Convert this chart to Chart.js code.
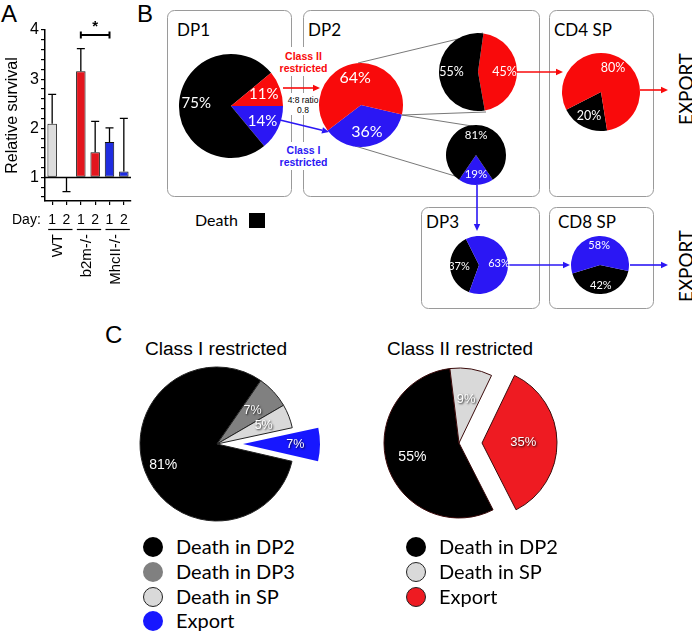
<!DOCTYPE html>
<html><head><meta charset="utf-8">
<script src="https://cdn.jsdelivr.net/npm/chart.js@4.4.1/dist/chart.umd.min.js"></script>
<style>
html,body{margin:0;padding:0;background:#fff;}
#wrap{position:relative;width:692px;height:633px;overflow:hidden;background:#fff;}
canvas{position:absolute;}
#ann{position:absolute;left:0;top:0;}
.leg{position:absolute;font-family:Lato,'Noto Sans',sans-serif;font-size:20px;color:#000;white-space:nowrap;line-height:20px;}
.dot{position:absolute;width:20px;height:20px;border-radius:50%;box-sizing:border-box;}
</style></head><body>
<div id="wrap">
<svg id="ann" width="692" height="633" xmlns="http://www.w3.org/2000/svg"></svg>
</div>
<script>
// ---------------- DATA ----------------
// Panel A
const dayLabels = ['1','2','1','2','1','2'];
const groupLabels = ['WT','b2m-/-','MhcII-/-'];
const survival = [2.09, 1.00, 3.16, 1.51, 1.72, 1.12];
const survivalErrEnd = [2.69, 0.71, 3.62, 2.14, 2.01, 2.20];
const yMajorTicksA = [1, 2, 3, 4];
const yMinorTicksA = [0.6, 0.8, 1.2, 1.4, 1.6, 1.8, 2.2, 2.4, 2.6, 2.8, 3.2, 3.4, 3.6, 3.8];
const sigPair = [2, 4];
// Panel B pies
const dp1Labels = ['Class I restricted', 'Death', 'Class II restricted'];
const dp1Values = [14, 75, 11];
const dp2Labels = ['Class I restricted', 'Class II restricted'];
const dp2Values = [36, 64];
const dp2ClassIILabels = ['To CD4 SP', 'Death'];
const dp2ClassIIValues = [45, 55];
const dp2ClassILabels = ['To DP3', 'Death'];
const dp2ClassIValues = [19, 81];
const cd4Labels = ['Death', 'Export'];
const cd4Values = [20, 80];
const dp3Labels = ['Death', 'To CD8 SP'];
const dp3Values = [37, 63];
const cd8Labels = ['Death', 'Export'];
const cd8Values = [42, 58];
// Panel C pies
const classILabels = ['Death in DP2', 'Death in DP3', 'Death in SP', 'Export'];
const classIValues = [81, 7, 5, 7];
const classIILabels = ['Death in DP2', 'Death in SP', 'Export'];
const classIIValues = [55, 9, 35];

// ---------------- STYLE ----------------
const RED = '#f90a0b', BLUE = '#2b17f4', BLK = '#000000';
const wrap = document.getElementById('wrap');
const svg = document.getElementById('ann');
const NS = 'http://www.w3.org/2000/svg';
function el(tag, attrs, text) {
  const e = document.createElementNS(NS, tag);
  for (const k in attrs) e.setAttribute(k, attrs[k]);
  if (text !== undefined) e.textContent = text;
  svg.appendChild(e);
  return e;
}
function txt(x, y, s, attrs) { return el('text', Object.assign({x, y}, attrs), s); }
function arrow(x1, y1, x2, y2, color) {
  const ang = Math.atan2(y2 - y1, x2 - x1), L = 7, W = 3.2;
  const bx = x2 - Math.cos(ang) * L, by = y2 - Math.sin(ang) * L;
  el('line', {x1, y1, x2: bx, y2: by, stroke: color, 'stroke-width': 1.6});
  const px = -Math.sin(ang) * W, py = Math.cos(ang) * W;
  el('polygon', {points: `${x2},${y2} ${bx + px},${by + py} ${bx - px},${by - py}`, fill: color});
}

// ---------------- Panel B background (boxes, connectors, arrows) ----------------
const boxStyle = {fill: 'none', stroke: '#9a9a9a', 'stroke-width': 1, rx: 7, ry: 7};
el('rect', Object.assign({x: 167.5, y: 10.5, width: 124, height: 186}, boxStyle));
el('rect', Object.assign({x: 303.5, y: 10.5, width: 236, height: 186}, boxStyle));
el('rect', Object.assign({x: 549.5, y: 10.5, width: 104, height: 186}, boxStyle));
el('rect', Object.assign({x: 421.5, y: 207.5, width: 118, height: 101}, boxStyle));
el('rect', Object.assign({x: 549.5, y: 207.5, width: 104, height: 101}, boxStyle));
// white patches where labels cross the box edges
el('rect', {x: 282, y: 47, width: 43, height: 29, fill: '#fff'});
el('rect', {x: 285, y: 93, width: 36, height: 22, fill: '#fff'});
el('rect', {x: 282, y: 142, width: 43, height: 28, fill: '#fff'});
// connector lines
const conn = {stroke: '#555', 'stroke-width': 0.8};
el('line', Object.assign({x1: 358, y1: 63, x2: 483, y2: 33}, conn));
el('line', Object.assign({x1: 402, y1: 115, x2: 486, y2: 112}, conn));
el('line', Object.assign({x1: 402, y1: 115, x2: 472, y2: 126}, conn));
el('line', Object.assign({x1: 355, y1: 146, x2: 465, y2: 179}, conn));
// arrows
arrow(283, 88, 320, 88, RED);
arrow(280, 120, 329, 132, BLUE);
arrow(517, 72, 563, 72, RED);
arrow(640, 90, 668, 90, RED);
arrow(477, 185, 477, 231, BLUE);
arrow(508, 265, 570, 265, BLUE);
arrow(630, 265, 668, 265, BLUE);

// Panel letters & titles
const sansA = "Liberation Sans, Arial, sans-serif";
const gill = "Lato, Noto Sans, sans-serif";
txt(1, 22, 'A', {'font-family': sansA, 'font-size': 24});
txt(137, 22, 'B', {'font-family': sansA, 'font-size': 24});
txt(105, 343, 'C', {'font-family': sansA, 'font-size': 24});
txt(177, 36, 'DP1', {'font-family': gill, 'font-size': 17});
txt(308, 36, 'DP2', {'font-family': gill, 'font-size': 17});
txt(554, 36, 'CD4 SP', {'font-family': gill, 'font-size': 17});
txt(426, 228, 'DP3', {'font-family': gill, 'font-size': 17});
txt(558, 228, 'CD8 SP', {'font-family': gill, 'font-size': 17});
txt(195, 226, 'Death', {'font-family': gill, 'font-size': 16});
el('rect', {x: 249, y: 213, width: 16, height: 15, fill: '#000'});
const bold = {'font-family': sansA, 'font-size': 10.5, 'font-weight': 'bold', 'text-anchor': 'middle'};
txt(303.5, 59.5, 'Class II', Object.assign({fill: RED}, bold));
txt(303.5, 72, 'restricted', Object.assign({fill: RED}, bold));
txt(303.5, 154, 'Class I', Object.assign({fill: BLUE}, bold));
txt(303.5, 165.5, 'restricted', Object.assign({fill: BLUE}, bold));
const small = {'font-family': sansA, 'font-size': 8.5, 'text-anchor': 'middle'};
txt(303, 103, '4:8 ratio', small);
txt(303, 113, '0.8', small);
[[89], [266]].forEach(([cy]) => {
  txt(0, 0, 'EXPORT', {'font-family': gill, 'font-size': 20, 'text-anchor': 'middle', 'dominant-baseline': 'central',
    transform: `translate(685,${cy}) rotate(-90)`, textLength: 72, lengthAdjust: 'spacingAndGlyphs'});
});
txt(145, 355, 'Class I restricted', {'font-family': sansA, 'font-size': 18, textLength: 142, lengthAdjust: 'spacingAndGlyphs'});
txt(387, 355, 'Class II restricted', {'font-family': sansA, 'font-size': 18, textLength: 146, lengthAdjust: 'spacingAndGlyphs'});

// ---------------- Pie helper ----------------
function makePie(o) {
  const show = o.show || o.values.map(() => true);
  const size = 2 * Math.ceil(o.r + 6);
  const c = document.createElement('canvas');
  c.width = size; c.height = size;
  c.style.left = Math.round(o.cx - size / 2) + 'px';
  c.style.top = Math.round(o.cy - size / 2) + 'px';
  wrap.appendChild(c);
  const bw = o.borderWidth || o.values.map(() => 0);
  const labelPlugin = {
    id: 'pctLabels',
    afterDatasetsDraw(chart) {
      const ctx = chart.ctx;
      const meta = chart.getDatasetMeta(0);
      meta.data.forEach((arc, i) => {
        if (!show[i]) return;
        const mid = (arc.startAngle + arc.endAngle) / 2;
        const f = Array.isArray(o.frac) ? o.frac[i] : o.frac;
        const x = arc.x + Math.cos(mid) * arc.outerRadius * f;
        const y = arc.y + Math.sin(mid) * arc.outerRadius * f;
        ctx.save();
        ctx.font = Array.isArray(o.font) ? o.font[i] : o.font;
        ctx.fillStyle = '#fff';
        ctx.textAlign = 'center'; ctx.textBaseline = 'middle';
        if (o.shadow) { ctx.shadowColor = 'rgba(0,0,0,0.85)'; ctx.shadowBlur = 2; ctx.shadowOffsetX = 1; ctx.shadowOffsetY = 1; }
        ctx.fillText(o.values[i] + '%', x, y);
        ctx.restore();
      });
    }
  };
  new Chart(c, {
    type: 'pie',
    data: {labels: o.labels, datasets: [{
      data: o.values,
      backgroundColor: o.colors.map((col, i) => show[i] ? col : 'rgba(0,0,0,0)'),
      borderColor: o.colors.map((col, i) => show[i] ? (o.borderColor || '#000') : 'rgba(0,0,0,0)'),
      borderWidth: bw.map((w, i) => show[i] ? w : 0)
    }]},
    options: {
      responsive: false, animation: false, events: [],
      rotation: o.startDeg + 90, radius: o.r,
      layout: {padding: 0},
      plugins: {legend: {display: false}, tooltip: {enabled: false}}
    },
    plugins: [labelPlugin]
  });
}
function explodedPie(o) {
  // base pie with exploded slice hidden, then the exploded slice shifted along its mid angle
  const total = o.values.reduce((a, b) => a + b, 0);
  makePie(Object.assign({}, o, {show: o.values.map((v, i) => i !== o.explode)}));
  let before = 0;
  for (let i = 0; i < o.explode; i++) before += o.values[i];
  const mid = (o.startDeg + (before + o.values[o.explode] / 2) / total * 360) * Math.PI / 180;
  makePie(Object.assign({}, o, {cx: o.cx + Math.cos(mid) * o.dist, cy: o.cy + Math.sin(mid) * o.dist,
    show: o.values.map((v, i) => i === o.explode)}));
}

// ---------------- Panel B pies ----------------
const F = (s) => `${s}px Lato, 'Noto Sans', sans-serif`;
makePie({cx: 231, cy: 106, r: 52, labels: dp1Labels, values: dp1Values, colors: [BLUE, BLK, RED], startDeg: 0, frac: 0.67, font: F(15)});
makePie({cx: 361, cy: 105, r: 42, labels: dp2Labels, values: dp2Values, colors: [BLUE, RED], startDeg: 13, frac: 0.66, font: F(16)});
makePie({cx: 478, cy: 72, r: 39, labels: dp2ClassIILabels, values: dp2ClassIIValues, colors: [RED, BLK], startDeg: -82, frac: 0.68, font: F(12.5)});
makePie({cx: 476, cy: 155, r: 30, labels: dp2ClassILabels, values: dp2ClassIValues, colors: [BLUE, BLK], startDeg: 56, frac: 0.65, font: F(11.5)});
makePie({cx: 601, cy: 92, r: 39, labels: cd4Labels, values: cd4Values, colors: [BLK, RED], startDeg: 81, frac: 0.68, font: F(12.5)});
makePie({cx: 479, cy: 265, r: 29, labels: dp3Labels, values: dp3Values, colors: [BLK, BLUE], startDeg: 110, frac: 0.69, font: F(11)});
makePie({cx: 600, cy: 265, r: 29, labels: cd8Labels, values: cd8Values, colors: [BLK, BLUE], startDeg: 12, frac: 0.69, font: F(11)});

// ---------------- Panel C pies ----------------
const H = (s) => `${s}px 'Liberation Sans', Arial, sans-serif`;
const classIColors = ['#000000', '#808080', '#d9d9d9', '#1717ff'];
const classIIColors = ['#000000', '#d9d9d9', '#ee1b22'];
explodedPie({cx: 217, cy: 444, r: 77, labels: classILabels, values: classIValues, colors: classIColors,
  startDeg: 13, frac: [0.75, 0.63, 0.65, 0.68], font: [H(14), H(12.5), H(12.5), H(12.5)], shadow: true,
  borderColor: '#222', borderWidth: [1, 1, 1, 0], explode: 3, dist: 26});
explodedPie({cx: 459, cy: 443, r: 75, labels: classIILabels, values: classIIValues, colors: classIIColors,
  startDeg: 63, frac: [0.65, 0.59, 0.55], font: [H(14), H(13), H(13)], shadow: true,
  borderColor: '#3a0a0a', borderWidth: [1, 1, 1], explode: 2, dist: 23});

// Legends for panel C
function legend(x, y0, labels, colors, outlines) {
  const ys = [0, 25, 50, 74];
  labels.forEach((lab, i) => {
    const d = document.createElement('div');
    d.className = 'dot';
    d.style.left = (x - 10) + 'px'; d.style.top = (y0 + ys[i] - 10) + 'px';
    d.style.background = colors[i];
    if (outlines[i]) d.style.border = '1px solid #222';
    wrap.appendChild(d);
    const t = document.createElement('div');
    t.className = 'leg';
    t.style.left = (x + 23) + 'px'; t.style.top = (y0 + ys[i] - 11) + 'px';
    t.textContent = lab;
    wrap.appendChild(t);
  });
}
legend(153, 547, classILabels, classIColors, [false, false, true, false]);
legend(416, 547, classIILabels, classIIColors, [false, true, true]);

// ---------------- Panel A bar chart ----------------
const barColors = ['#dcdcdc', '#dcdcdc', '#e3161e', '#e3161e', '#1f2ce0', '#1f2ce0'];
const cA = document.createElement('canvas');
cA.width = 140; cA.height = 300;
cA.style.left = '0px'; cA.style.top = '0px';
wrap.appendChild(cA);
const annA = {
  id: 'annA',
  afterDatasetsDraw(chart) {
    const ctx = chart.ctx, xs = chart.scales.x, ys = chart.scales.y;
    const area = chart.chartArea;
    ctx.save();
    ctx.strokeStyle = '#000'; ctx.fillStyle = '#000';
    // baseline at 1
    ctx.lineWidth = 1.5;
    const yb = ys.getPixelForValue(1);
    ctx.beginPath(); ctx.moveTo(area.left, yb); ctx.lineTo(area.right, yb); ctx.stroke();
    // error bars
    ctx.lineWidth = 1.3;
    survival.forEach((v, i) => {
      const x = xs.getPixelForValue(i);
      const y1 = ys.getPixelForValue(v), y2 = ys.getPixelForValue(survivalErrEnd[i]);
      ctx.beginPath(); ctx.moveTo(x, y1); ctx.lineTo(x, y2);
      ctx.moveTo(x - 4, y2); ctx.lineTo(x + 4, y2); ctx.stroke();
    });
    // significance bracket
    const bx1 = xs.getPixelForValue(sigPair[0]), bx2 = xs.getPixelForValue(sigPair[1]);
    const by = ys.getPixelForValue(3.9);
    ctx.lineWidth = 2;
    ctx.beginPath(); ctx.moveTo(bx1, by); ctx.lineTo(bx2, by);
    ctx.moveTo(bx1, by - 3.5); ctx.lineTo(bx1, by + 3.5);
    ctx.moveTo(bx2, by - 3.5); ctx.lineTo(bx2, by + 3.5); ctx.stroke();
    ctx.font = "bold 15px 'Liberation Sans', Arial, sans-serif";
    ctx.textAlign = 'center'; ctx.textBaseline = 'middle';
    ctx.fillText('*', (bx1 + bx2) / 2, by - 8);
    ctx.restore();
  },
  afterDraw(chart) {
    const ctx = chart.ctx, xs = chart.scales.x;
    ctx.save();
    ctx.fillStyle = '#000'; ctx.strokeStyle = '#000'; ctx.lineWidth = 1.2;
    ctx.font = "14px 'Liberation Sans', Arial, sans-serif";
    ctx.textAlign = 'left'; ctx.textBaseline = 'middle';
    ctx.fillText('Day:', 12, 220);
    groupLabels.forEach((g, k) => {
      const xa = xs.getPixelForValue(2 * k), xb = xs.getPixelForValue(2 * k + 1);
      ctx.beginPath(); ctx.moveTo(xa - 4, 229.5); ctx.lineTo(xb + 6, 229.5); ctx.stroke();
      ctx.save();
      ctx.translate((xa + xb) / 2 - 1, 234);
      ctx.rotate(-Math.PI / 2);
      ctx.font = "15px 'Liberation Sans', Arial, sans-serif";
      ctx.textAlign = 'right'; ctx.textBaseline = 'middle';
      ctx.fillText(g, 0, 0);
      ctx.restore();
    });
    ctx.restore();
  }
};
new Chart(cA, {
  type: 'bar',
  data: {labels: dayLabels, datasets: [{
    data: survival, base: 1,
    backgroundColor: barColors, borderColor: '#111', borderWidth: 1, borderSkipped: false,
    barPercentage: 0.66, categoryPercentage: 1
  }]},
  options: {
    responsive: false, animation: false, events: [],
    layout: {padding: {top: 30, right: 9, left: 0, bottom: 0}},
    plugins: {legend: {display: false}, tooltip: {enabled: false}},
    scales: {
      x: {
        offset: true,
        grid: {display: true, drawOnChartArea: false, offset: false, tickLength: 4, color: '#000', lineWidth: 1.2},
        border: {display: true, color: '#000', width: 1.5},
        ticks: {color: '#000', font: {family: "'Liberation Sans', Arial, sans-serif", size: 14}, padding: 7, maxRotation: 0, autoSkip: false},
        afterFit(s) { s.height = 99; }
      },
      y: {
        min: 0.52, max: 4,
        afterBuildTicks(s) {
          s.ticks = yMajorTicksA.concat(yMinorTicksA).sort((a, b) => a - b).map(v => ({value: v}));
        },
        ticks: {
          autoSkip: false, color: '#000', padding: 2,
          font: {family: "'Liberation Sans', Arial, sans-serif", size: 16},
          callback: (v) => yMajorTicksA.includes(v) ? String(v) : ''
        },
        grid: {drawOnChartArea: false, tickLength: 4, color: '#000', lineWidth: 1.2},
        border: {display: true, color: '#000', width: 1.5},
        title: {display: true, text: 'Relative survival', color: '#000',
          font: {family: "'Liberation Sans', Arial, sans-serif", size: 16}, padding: {top: 3, bottom: 0}},
        afterFit(s) { s.width = 45; }
      }
    }
  },
  plugins: [annA]
});
</script>
</body></html>
